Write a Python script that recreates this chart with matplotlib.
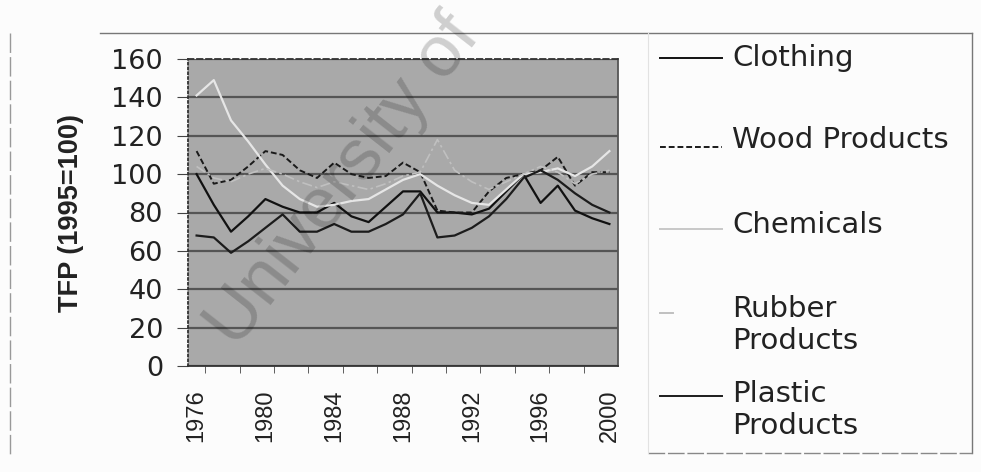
import numpy as np
import matplotlib
matplotlib.use("Agg")
import matplotlib.pyplot as plt
from matplotlib.lines import Line2D

# TFP index series, 1995 = 100
years = list(range(1976, 2001))
clothing = [100, 84, 70, 78, 87, 83, 80, 80, 85, 78, 75, 83, 91, 91,
            80, 80, 79, 82, 91, 100, 85, 94, 81, 77, 74]
wood = [112, 95, 97, 104, 112, 110, 102, 98, 106, 100, 98, 99, 106, 101,
        81, 80, 80, 91, 98, 100, 102, 109, 94, 101, 101]
chemicals = [141, 149, 128, 117, 105, 94, 87, 83, 84, 86, 87, 92, 97, 100,
             94, 89, 85, 84, 92, 100, 101, 103, 99, 104, 112]
rubber = [104, 98, 96, 100, 103, 100, 96, 93, 96, 94, 92, 95, 99, 101,
          118, 102, 96, 92, 96, 100, 104, 101, 95, 100, 102]
plastic = [68, 67, 59, 65, 72, 79, 70, 70, 74, 70, 70, 74, 79, 90,
           67, 68, 72, 78, 87, 98, 102, 97, 90, 84, 80]

labels = ["Clothing", "Wood Products", "Chemicals",
          "Rubber\nProducts", "Plastic\nProducts"]

W, H = 981, 472


def fx(x):
    return x / W


def fy(y):
    return 1 - y / H


fig = plt.figure(figsize=(W / 100, H / 100), dpi=100)
fig.patch.set_facecolor("#fcfcfc")

ax = fig.add_axes([fx(188), fy(366), (618 - 188) / W, (366 - 59) / H])
ax.set_facecolor("#a9a9a9")

styles = [
    dict(color="#111111", lw=1.6, ls="-"),
    dict(color="#1a1a1a", lw=1.4, ls=(0, (3, 1.5))),
    dict(color="#e6e6e6", lw=1.6, ls="-"),
    dict(color="#c0c0c0", lw=1.2, ls=(0, (6, 2, 1.5, 2))),
    dict(color="#1c1c1c", lw=1.6, ls="-"),
]
series = [clothing, wood, chemicals, rubber, plastic]
order = [3, 2, 1, 0, 4]
for i in order:
    ax.plot(years, series[i], zorder=3 + i * 0.1, **styles[i])

ax.set_xlim(1975.5, 2000.5)
ax.set_ylim(0, 160)
ax.set_yticks(range(0, 161, 20))
ax.yaxis.grid(True, color="#555555", lw=1.6)
ax.set_axisbelow(True)

ax.set_xticks(range(1976, 2001, 4))
ax.set_xticks(np.arange(1976.5, 2000, 2), minor=True)
ax.tick_params(axis="x", which="major", length=0, pad=17)
ax.tick_params(axis="x", which="minor", length=5, color="#444444")
ax.tick_params(axis="y", length=8, pad=10, color="#444444")

for lab in ax.get_yticklabels():
    lab.set_family("DejaVu Sans")
    lab.set_fontsize(19.5)
    lab.set_color("#222222")
for lab in ax.get_xticklabels():
    lab.set_family("Liberation Sans")
    lab.set_fontsize(17)
    lab.set_rotation(90)
    lab.set_color("#222222")
    lab.set_va("top")

ax.set_ylabel("TFP (1995=100)", family="Liberation Sans", fontsize=19.5,
              fontweight="bold", color="#222222", labelpad=20)

ax.spines["left"].set_linestyle(":")
ax.spines["left"].set_color("#333333")
ax.spines["top"].set_linestyle((0, (3, 2)))
ax.spines["top"].set_color("#333333")
ax.spines["right"].set_color("#555555")
ax.spines["bottom"].set_color("#333333")
for s in ax.spines.values():
    s.set_linewidth(1.3)

# legend drawn by hand on the figure
handle_y = [58, 147, 229, 313, 396]
text_y = [58, 140, 225, 325, 410]
for i in range(5):
    st = styles[i]
    x1 = 673 if i == 3 else 722
    fig.add_artist(Line2D([fx(660), fx(x1)], [fy(handle_y[i])] * 2,
                          color=st["color"] if i != 2 else "#c8c8c8",
                          lw=1.4, ls=st["ls"] if i != 3 else "-"))
    fig.text(fx(732), fy(text_y[i]), labels[i], family="DejaVu Sans",
             fontsize=21, color="#222222", ha="left", va="center",
             linespacing=1.2)

# outer frames
frame = dict(color="#777777", lw=1.0)
fig.add_artist(Line2D([fx(100), fx(972)], [fy(33), fy(33)], **frame))
fig.add_artist(Line2D([fx(10), fx(10)], [fy(33), fy(458)],
                      color="#999999", lw=1.0, ls=(0, (14, 3))))
fig.add_artist(Line2D([fx(972), fx(972)], [fy(33), fy(453)], **frame))
fig.add_artist(Line2D([fx(648), fx(972)], [fy(453), fy(453)],
                      color="#888888", lw=1.0, ls=(0, (12, 2))))
fig.add_artist(Line2D([fx(648), fx(648)], [fy(33), fy(453)],
                      color="#e2e2e2", lw=0.8))

# faint diagonal watermark
fig.text(fx(236), fy(350), "University of", family="Liberation Sans",
         fontsize=52, color="black", alpha=0.18, rotation=52,
         rotation_mode="anchor", ha="left", va="baseline", zorder=10)

fig.savefig("out.png", dpi=100, facecolor=fig.get_facecolor())
